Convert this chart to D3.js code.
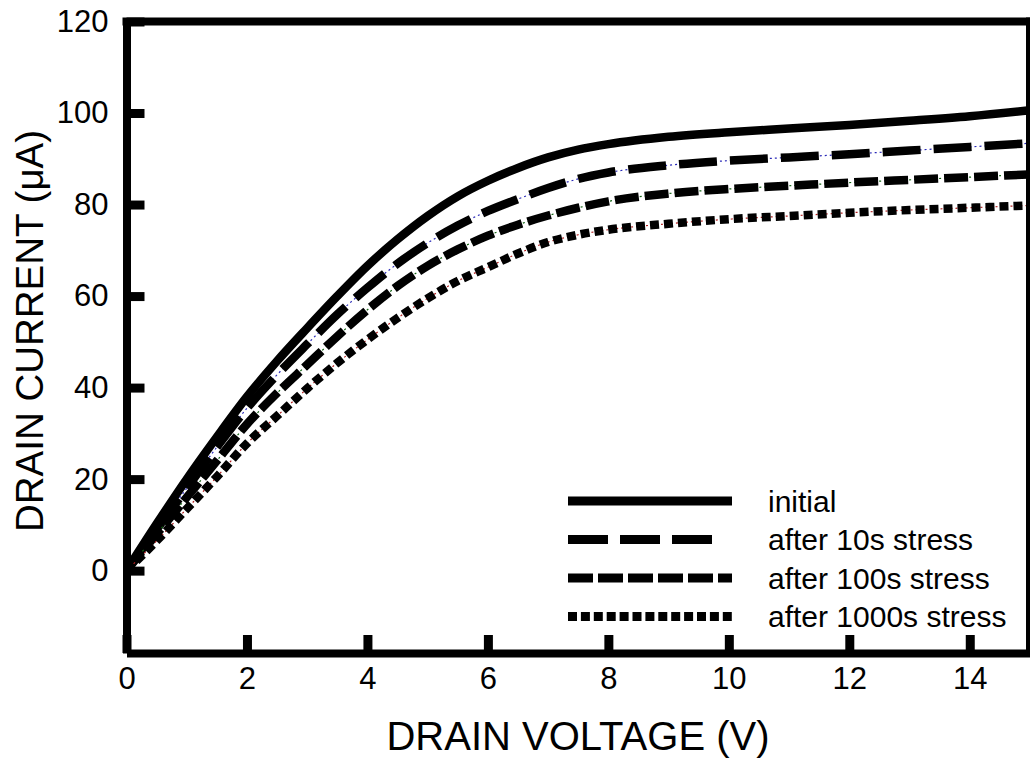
<!DOCTYPE html>
<html>
<head>
<meta charset="utf-8">
<script src="https://cdnjs.cloudflare.com/ajax/libs/d3/7.8.5/d3.min.js"></script>
<style>
    body { margin: 0; background: #fff; }
    svg { display: block; font-family: "Liberation Sans", Arial, sans-serif; }
</style>
</head>
<body>
<div id="chart"></div>
<script>
// drain voltage (V)
var voltage = [0, 0.5, 1, 1.5, 2, 2.5, 3, 3.5, 4, 4.5, 5, 5.5, 6, 6.5, 7, 7.5, 8, 9, 10, 11, 12, 13, 14, 15];

// drain current (uA) for each stress time
var initialI = [0, 10.2, 20, 29.2, 38, 45.8, 53, 60, 66.6, 72.4, 77.5, 81.8, 85.2, 88, 90.3, 92, 93.2, 94.8, 95.8, 96.6, 97.4, 98.3, 99.3, 100.6];
var stress10 = [0, 9, 18, 27, 35.5, 42.8, 49.5, 56, 61.8, 67.1, 71.6, 75.4, 78.6, 81.2, 83.6, 85.6, 87, 88.6, 89.6, 90.3, 91, 91.8, 92.6, 93.4];
var stress100 = [0, 8, 16, 24, 32, 38.8, 45, 51.2, 57, 62.2, 66.6, 70.2, 73.2, 75.6, 77.6, 79.3, 80.7, 82.4, 83.4, 84.1, 84.8, 85.4, 86, 86.6];
var stress1000 = [0, 6.5, 13.5, 20.5, 27.8, 33.8, 39.8, 45.4, 50.5, 55.2, 59.5, 63.3, 66.3, 69.3, 71.8, 73.4, 74.5, 75.8, 76.8, 77.5, 78.2, 78.8, 79.3, 79.8];

var seriesNames = ["initial", "after 10s stress", "after 100s stress", "after 1000s stress"];
var xTicks = [0, 2, 4, 6, 8, 10, 12, 14];
var yTicks = [0, 20, 40, 60, 80, 100, 120];

var width = 1030, height = 763;
var plotLeft = 126.5, plotRight = 1030, plotTop = 21.5, plotBottom = 653;

var svg = d3.select("#chart").append("svg")
    .attr("width", width)
    .attr("height", height);

var x = d3.scaleLinear().domain([0, 15]).range([plotLeft, plotRight]);
var y = d3.scaleLinear().domain([-18, 120]).range([plotBottom, plotTop]);

// line styles: dash pattern in plot, dash pattern in legend, colour of the thin guide line
var styles = [
    { dash: null, legendDash: null, guide: null, legendEnd: 732 },
    { dash: "38,13", legendDash: "40,12", guide: "#2a2ab8", legendEnd: 713 },
    { dash: "24,6", legendDash: "25,5", guide: "#106010", legendEnd: 732 },
    { dash: "9,5", legendDash: "9,3.9", guide: "#b02020", legendEnd: 732 }
];

var allSeries = [initialI, stress10, stress100, stress1000];

var line = d3.line()
    .x(function(d) { return x(d[0]); })
    .y(function(d) { return y(d[1]); })
    .curve(d3.curveMonotoneX);

var curves = svg.append("g");

allSeries.forEach(function(vals, i) {
    var pts = voltage.map(function(v, j) { return [v, vals[j]]; });
    var st = styles[i];
    if (st.guide) {
        curves.append("path")
            .attr("d", line(pts))
            .attr("fill", "none")
            .attr("stroke", st.guide)
            .attr("stroke-width", 1.2)
            .attr("stroke-dasharray", "2,3");
    }
    curves.append("path")
        .attr("d", line(pts))
        .attr("fill", "none")
        .attr("stroke", "#000")
        .attr("stroke-width", 8.5)
        .attr("stroke-linecap", "butt")
        .attr("stroke-dasharray", st.dash);
});

// axes
var xAxis = d3.axisBottom(x)
    .tickValues(xTicks)
    .tickSizeInner(-18)
    .tickSizeOuter(0)
    .tickPadding(14);

var yAxis = d3.axisLeft(y)
    .tickValues(yTicks)
    .tickSizeInner(-18)
    .tickSizeOuter(0)
    .tickPadding(18);

var gx = svg.append("g")
    .attr("transform", "translate(0," + plotBottom + ")")
    .call(xAxis);

var gy = svg.append("g")
    .attr("transform", "translate(" + plotLeft + ",0)")
    .call(yAxis);

[gx, gy].forEach(function(g) {
    g.select(".domain").attr("stroke", "#000").attr("stroke-width", 8);
    g.selectAll(".tick line").attr("stroke", "#000").attr("stroke-width", 9);
    g.selectAll(".tick text")
        .attr("fill", "#000")
        .style("font-size", "31px")
        .style("font-family", "'Liberation Sans', Arial, sans-serif");
});

// top and right frame
svg.append("line")
    .attr("x1", plotLeft - 4).attr("x2", plotRight + 4)
    .attr("y1", plotTop).attr("y2", plotTop)
    .attr("stroke", "#000").attr("stroke-width", 8);

svg.append("line")
    .attr("x1", plotRight).attr("x2", plotRight)
    .attr("y1", plotTop - 4).attr("y2", plotBottom + 4)
    .attr("stroke", "#000").attr("stroke-width", 8);

// axis titles
svg.append("text")
    .attr("x", 578)
    .attr("y", 750)
    .attr("text-anchor", "middle")
    .style("font-size", "40px")
    .text("DRAIN VOLTAGE (V)");

svg.append("text")
    .attr("transform", "translate(43,331) rotate(-90)")
    .attr("text-anchor", "middle")
    .style("font-size", "38.5px")
    .text("DRAIN CURRENT (\u03BCA)");

// legend
var legend = svg.append("g");
var rowY = [501, 539.5, 578, 616.5];

seriesNames.forEach(function(name, i) {
    legend.append("line")
        .attr("x1", 568)
        .attr("x2", styles[i].legendEnd)
        .attr("y1", rowY[i]).attr("y2", rowY[i])
        .attr("stroke", "#000")
        .attr("stroke-width", 9)
        .attr("stroke-dasharray", styles[i].legendDash);

    legend.append("text")
        .attr("x", 768)
        .attr("y", rowY[i])
        .attr("dy", "0.36em")
        .style("font-size", "30px")
        .text(name);
});
</script>
</body>
</html>
